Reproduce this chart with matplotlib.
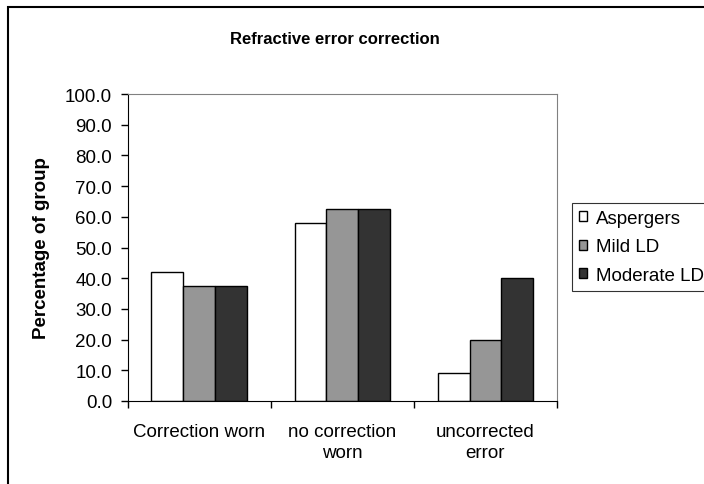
import numpy as np
import matplotlib
matplotlib.use('Agg')
import matplotlib.pyplot as plt
from matplotlib.patches import Rectangle

# Data
categories = ['Correction worn', 'no correction\nworn', 'uncorrected\nerror']
aspergers = [42.1, 57.9, 9.0]
mild_ld = [37.5, 62.5, 20.0]
moderate_ld = [37.5, 62.5, 40.0]
series_names = ['Aspergers', 'Mild LD', 'Moderate LD']

plt.rcParams['font.family'] = ['Liberation Sans', 'DejaVu Sans']
fs = 13.5

fig = plt.figure(figsize=(7.04, 4.85), dpi=100)
ax = fig.add_axes([127.5 / 704, 83 / 485, (557 - 127.5) / 704, (402 - 95) / 485])

x = np.arange(len(categories))
w = 1 / 4.5
colors = ['#ffffff', '#969696', '#333333']
for i, (vals, name) in enumerate(zip([aspergers, mild_ld, moderate_ld], series_names)):
    ax.bar(x + (i - 1) * w, vals, width=w, color=colors[i], edgecolor='black',
           linewidth=1, label=name)

ax.set_xlim(-0.5, 2.5)
ax.set_ylim(0, 100)
ax.set_yticks(np.arange(0, 101, 10))
ax.set_yticklabels([f'{v:.1f}' for v in np.arange(0, 101, 10)])
ax.tick_params(axis='y', direction='out', length=5, width=1, pad=6, labelsize=fs)

ax.set_xticks([-0.5, 0.5, 1.5, 2.5])
ax.set_xticklabels([])
ax.set_xticks(x, minor=True)
ax.set_xticklabels(categories, minor=True, linespacing=1.3)
ax.tick_params(axis='x', which='major', direction='out', length=5, width=1)
ax.tick_params(axis='x', which='minor', length=0, pad=16, labelsize=fs)

for s in ['top', 'right']:
    ax.spines[s].set_color('#808080')
for s in ['left', 'bottom']:
    ax.spines[s].set_color('black')

fig.text(335 / 704, 1 - 40 / 485, 'Refractive error correction', ha='center',
         va='center', fontsize=12, fontweight='bold')
fig.text(42 / 704, 1 - 248 / 485, 'Percentage of group', ha='center', va='center',
         rotation=90, fontsize=13.5, fontweight='bold')

leg = fig.legend(loc='center left', bbox_to_anchor=(572 / 704, 1 - 248 / 485),
                 frameon=True, fancybox=False, edgecolor='black', handlelength=0.45,
                 handleheight=0.45, handletextpad=0.5, borderpad=0.35,
                 labelspacing=0.62, borderaxespad=0, fontsize=fs)
leg.get_frame().set_linewidth(0.8)

fig.patches.append(Rectangle((8 / 704, -0.1), 1.2, 1 - 8 / 485 + 0.1,
                             transform=fig.transFigure, fill=False,
                             edgecolor='black', linewidth=1.5))

fig.savefig('out.png', dpi=100)
